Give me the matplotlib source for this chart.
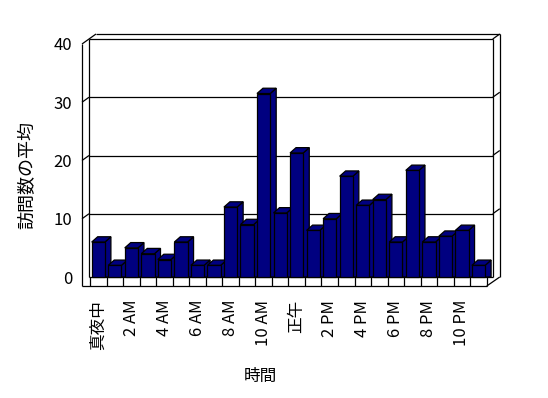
import numpy as np
import matplotlib
matplotlib.use('Agg')
import matplotlib.pyplot as plt
from matplotlib.patches import Polygon

plt.rcParams['font.family'] = ['Noto Sans CJK JP', 'DejaVu Sans']

# データ (時間別の訪問数の平均)
hours = ['真夜中', '1 AM', '2 AM', '3 AM', '4 AM', '5 AM', '6 AM', '7 AM', '8 AM', '9 AM',
         '10 AM', '11 AM', '正午', '1 PM', '2 PM', '3 PM', '4 PM', '5 PM', '6 PM', '7 PM',
         '8 PM', '9 PM', '10 PM', '11 PM']
visits = [6, 2, 5, 4, 3, 6, 2, 2, 12, 9, 31.5, 11, 21.3, 8, 10, 17.3, 12.3, 13.3, 6, 18.3,
          6, 7, 8, 2]
y_ticks = [0, 10, 20, 30, 40]

navy = '#000080'
x = np.arange(len(visits))

# 3D風の奥行き (データ単位)
px_x = 16.53          # 1 カテゴリあたりのピクセル
px_y = 5.825          # 1 単位あたりのピクセル
dxw, dyw = 7 / px_x, 5 / px_y
dxb, dyb = 6 / px_x, 5.3 / px_y
bw = 0.8

fig = plt.figure(figsize=(5.48, 3.98), dpi=100)
ax = fig.add_axes([82 / 548, 112 / 398, 418 / 548, 253 / 398])
x0 = -16.3 / px_x
ax.set_xlim(x0, x0 + 418 / px_x)
y_floor = -9 / px_y
ax.set_ylim(y_floor, y_floor + 253 / px_y)
for s in ax.spines.values():
    s.set_visible(False)

lw = 0.9
k = dict(color='black', lw=lw, solid_capstyle='butt', clip_on=False)
ymax = y_ticks[-1]
xl, xl2 = x0 + dxw, x0 + 2 * dxw
xr = len(x) - 0.5 + 6 / px_x
xr2 = xr + dxw
top1, top2 = ymax + dyw, ymax + 2 * dyw

# 壁と床
ax.plot([x0, x0], [y_floor, ymax], **k)
ax.plot([x0, xl, xl2], [ymax, top1, top2], **k)
ax.plot([xl2, xr2], [top2, top2], **k)
ax.plot([xl, xr], [top1, top1], **k)
ax.plot([xr, xr2], [top1, top2], **k)
ax.plot([xl, xl], [0, top1], **k)
ax.plot([xr, xr], [0, top1], **k)
ax.plot([xr2, xr2], [0, top2], **k)
ax.plot([xl, xr], [0, 0], **k)
ax.plot([xr2, len(x) - 0.5], [0, y_floor], **k)
ax.plot([x0, len(x) - 0.5], [y_floor, y_floor], **k)
for b in np.arange(-0.5, len(x), 1.0):
    ax.plot([b, b], [0, y_floor], **k)
for v in y_ticks[1:-1]:
    ax.plot([xl, xr], [v + dyw, v + dyw], **k)
    ax.plot([x0, xl], [v, v + dyw], **k)
    ax.plot([xr, xr2], [v + dyw, v + 2 * dyw], **k)

# 棒
bars = ax.bar(x, visits, width=bw, color=navy, edgecolor='black', linewidth=lw)
for i, (b, v) in enumerate(zip(bars, visits)):
    l, r = i - bw / 2, i + bw / 2
    b.set_zorder(10 + 2 * i + 1)
    side = Polygon([(r, 0), (r, v), (r + dxb, v + dyb), (r + dxb, 0)],
                   facecolor=navy, edgecolor='black', lw=lw, zorder=10 + 2 * i)
    top = Polygon([(l, v), (l + dxb, v + dyb), (r + dxb, v + dyb), (r, v)],
                  facecolor=navy, edgecolor='black', lw=lw, zorder=10 + 2 * i)
    ax.add_patch(side)
    ax.add_patch(top)

ax.set_yticks(y_ticks)
ax.set_yticklabels([str(v) for v in y_ticks], fontsize=12)
ax.set_xticks(x[::2])
ax.set_xticklabels(hours[::2], rotation=90, fontsize=12, va='top')
ax.tick_params(axis='both', length=0)
ax.tick_params(axis='y', pad=7)
ax.tick_params(axis='x', pad=10)

ax.set_ylabel('訪問数の平均', fontsize=13)
ax.yaxis.set_label_coords(-0.11, 0.44)
ax.set_xlabel('時間', fontsize=12)
ax.xaxis.set_label_coords(0.426, -0.325)

fig.savefig('out.png', dpi=100)
